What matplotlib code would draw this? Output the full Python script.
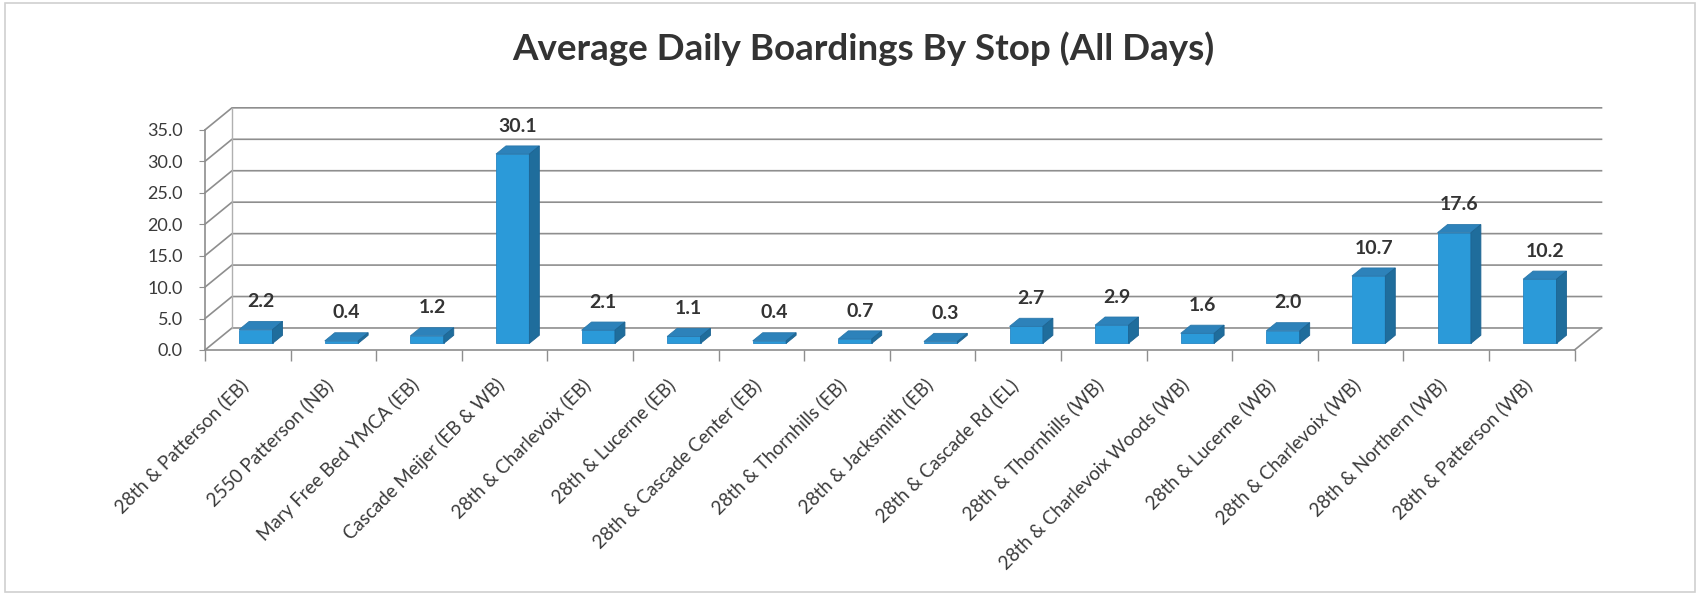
import matplotlib
matplotlib.use("Agg")
import matplotlib.pyplot as plt
from matplotlib.patches import Polygon, Rectangle
from matplotlib.transforms import ScaledTranslation
import numpy as np

plt.rcParams['font.family'] = ['Lato', 'DejaVu Sans']

stops = ['28th & Patterson (EB)', '2550 Patterson (NB)', 'Mary Free Bed YMCA (EB)',
         'Cascade Meijer (EB & WB)', '28th & Charlevoix (EB)', '28th & Lucerne (EB)',
         '28th & Cascade Center (EB)', '28th & Thornhills (EB)', '28th & Jacksmith (EB)',
         '28th & Cascade Rd (EL)', '28th & Thornhills (WB)', '28th & Charlevoix Woods (WB)',
         '28th & Lucerne (WB)', '28th & Charlevoix (WB)', '28th & Northern (WB)',
         '28th & Patterson (WB)']
boardings = [2.2, 0.4, 1.2, 30.1, 2.1, 1.1, 0.4, 0.7, 0.3, 2.7, 2.9, 1.6, 2.0, 10.7, 17.6, 10.2]
yticks = [0, 5, 10, 15, 20, 25, 30, 35]

# 3d look: depth offset of the back wall, in data units
DX, DY = 0.315, 3.5
d0, d1 = 0.3, 0.67   # bar front / back depth
bw = 0.39
grid_c = '#8e8e8e'
txt_c = '#3a3a3a'

fig = plt.figure(figsize=(17, 5.95), dpi=100)
fig.patches.append(Rectangle((0.003, 0.005), 0.994, 0.99, transform=fig.transFigure,
                             fill=False, edgecolor='#d0d0d0', linewidth=1.2))
ax = fig.add_axes([205 / 1700, 245 / 595, 1438 / 1700, 251.6 / 595])
n = len(stops)
ax.set_xlim(0, 16.8)
ax.set_ylim(0, 40)

# walls / gridlines
for v in yticks:
    ax.plot([0, DX, n + DX], [v, v + DY, v + DY], color=grid_c, lw=1.2, zorder=1,
            clip_on=False)
ax.plot([DX, DX], [DY, 35 + DY], color='#b0b0b0', lw=1.0, zorder=1)
ax.plot([n, n + DX], [0, DY], color=grid_c, lw=1.2, zorder=1, clip_on=False)

# bars
for i, v in enumerate(boardings):
    c = i + 0.5
    xl, xr = c - bw / 2, c + bw / 2
    front = Polygon([(xl + d0 * DX, d0 * DY), (xr + d0 * DX, d0 * DY),
                     (xr + d0 * DX, v + d0 * DY), (xl + d0 * DX, v + d0 * DY)],
                    closed=True, facecolor='#2b9ad9', edgecolor='#2586c4', lw=0.6, zorder=3)
    top = Polygon([(xl + d0 * DX, v + d0 * DY), (xr + d0 * DX, v + d0 * DY),
                   (xr + d1 * DX, v + d1 * DY), (xl + d1 * DX, v + d1 * DY)],
                  closed=True, facecolor='#2d82ba', edgecolor='#2a78ab', lw=0.6, zorder=3)
    side = Polygon([(xr + d0 * DX, d0 * DY), (xr + d1 * DX, d1 * DY),
                    (xr + d1 * DX, v + d1 * DY), (xr + d0 * DX, v + d0 * DY)],
                   closed=True, facecolor='#1f6d9c', edgecolor='#1c6392', lw=0.6, zorder=3)
    for p in (front, top, side):
        ax.add_patch(p)
    ax.text(c + (d0 + d1) / 2 * DX, v + d1 * DY + 1.8, f'{v:.1f}', ha='center',
            va='bottom', fontsize=14, fontweight='bold', color='#333333', zorder=4)

for s in ['top', 'right']:
    ax.spines[s].set_visible(False)
ax.spines['left'].set_bounds(0, 35)
ax.spines['bottom'].set_bounds(0, n)
for s in ['left', 'bottom']:
    ax.spines[s].set_color(grid_c)
    ax.spines[s].set_linewidth(1.2)

ax.set_yticks(yticks)
ax.set_yticklabels([f'{v:.1f}' for v in yticks])
ax.tick_params(axis='y', length=4, pad=12, labelsize=13, colors=grid_c, labelcolor=txt_c)

ax.set_xticks(np.arange(n + 1), minor=True)
ax.set_xticks(np.arange(n) + 0.5)
ax.set_xticklabels(stops, rotation=45, ha='right', va='center', rotation_mode='anchor')
ax.tick_params(axis='x', which='major', length=0, pad=23, labelsize=13.5, labelcolor=txt_c)
ax.tick_params(axis='x', which='minor', length=8, color=grid_c, width=1.0)
off = ScaledTranslation(-3 / 100, 0, fig.dpi_scale_trans)
for lbl in ax.get_xticklabels():
    lbl.set_transform(lbl.get_transform() + off)

fig.text(863 / 1700, 1 - 49 / 595, 'Average Daily Boardings By Stop (All Days)',
         ha='center', va='center', fontsize=26.5, fontweight='bold', color='#333333')

fig.savefig('out.png', dpi=100)
